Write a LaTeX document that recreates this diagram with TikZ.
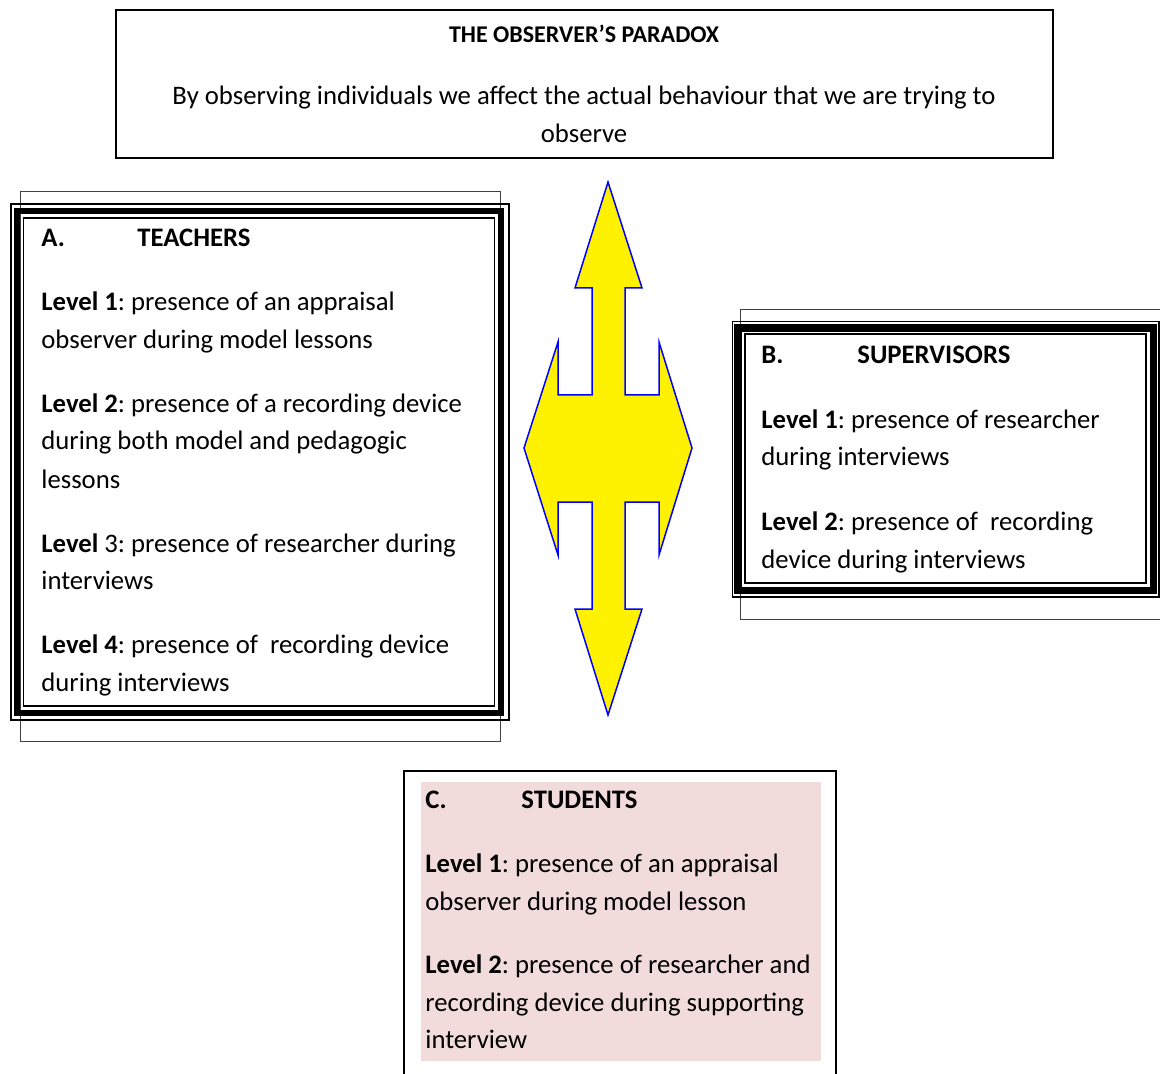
\documentclass[tikz,border=0pt]{standalone}
\usepackage{fontspec}
\setmainfont{Carlito}
\usepackage{xcolor}
\usepackage{tikz}
\definecolor{pinkfill}{RGB}{242,219,219}
\tikzset{txt/.style={anchor=base west,inner sep=0pt,font=\fontsize{13.35}{16}\selectfont\frenchspacing},
  ttl/.style={txt,font=\fontsize{13.35}{16}\selectfont\bfseries},
  thin/.style={line width=0.65pt},
  plain/.style={line width=0.5pt,black!75}}

\begin{document}
\begin{tikzpicture}[x=0.5pt,y=-0.5pt]
  \useasboundingbox (0,0) rectangle (1160,1074);
  \clip (0,0) rectangle (1160,1074);

  % the paradox
  \draw[line width=0.75pt] (116,10) rectangle (1053,158);
  \node[ttl,anchor=base,font=\fontsize{12}{14}\selectfont\bfseries] (title) at (584,43) {THE OBSERVER’S PARADOX};
  \node[txt,anchor=base] (def1) at (584,105) {By observing individuals we affect the actual behaviour that we are trying to};
  \node[txt,anchor=base] (def2) at (584,143) {observe};

  % A. teachers
  \draw[plain] (20,192) rectangle (500,741);
  \draw[thin] (11,204) rectangle (509,720);
  \draw[line width=3pt] (17,211) rectangle (500.5,713);
  \draw[thin] (23.5,218) rectangle (494.5,706);
  \node[ttl] (ahead) at (41,247) {A.};
  \node[ttl] (aname) at (137,247) {TEACHERS};
  \foreach \y/\t [count=\i] in {311/{\textbf{Level 1}: presence of an appraisal},
      349/{observer during model lessons},
      413/{\textbf{Level 2}: presence of a recording device},
      450/{during both model and pedagogic},
      488/{lessons},
      552/{\textbf{Level} 3: presence of researcher during},
      589/{interviews},
      653/{\textbf{Level 4}: presence of \ recording device},
      691/{during interviews}}
    \node[txt] (a\i) at (41,\y) {\t};

  % B. supervisors
  \draw[plain] (740,310) rectangle (1170,619);
  \draw[thin] (732.5,321.5) rectangle (1159,597);
  \draw[line width=3.75pt] (738,328) rectangle (1153.5,590.5);
  \draw[thin] (745,334) rectangle (1146,583);
  \node[ttl] (bhead) at (761,364) {B.};
  \node[ttl] (bname) at (857,364) {SUPERVISORS};
  \foreach \y/\t [count=\i] in {429/{\textbf{Level 1}: presence of researcher},
      466/{during interviews},
      530/{\textbf{Level 2}: presence of \ recording},
      568/{device during interviews}}
    \node[txt] (b\i) at (761,\y) {\t};

  % C. students
  \draw[line width=0.75pt] (404,771) rectangle (836,1090);
  \fill[pinkfill] (421,782) rectangle (821,1061);
  \node[ttl] (chead) at (425,808) {C.};
  \node[ttl] (cname) at (521,808) {STUDENTS};
  \foreach \y/\t [count=\i] in {872/{\textbf{Level 1}: presence of an appraisal},
      910/{observer during model lesson},
      973/{\textbf{Level 2}: presence of researcher and},
      1011/{recording device during supporting},
      1048/{interview}}
    \node[txt] (c\i) at (425,\y) {\t};

  % double arrow
  \draw[blue,fill=yellow,line width=0.75pt,line join=miter]
    (608,182) -- (642,288) -- (625,288) -- (625,395) -- (659,395) -- (659,342)
    -- (692,448) -- (659,555) -- (659,502) -- (625,502) -- (625,609) -- (642,609)
    -- (608,715) -- (575,609) -- (592,609) -- (592,502) -- (558,502) -- (558,555)
    -- (524,448) -- (558,342) -- (558,395) -- (592,395) -- (592,288) -- (575,288) -- cycle;
\end{tikzpicture}
\end{document}
